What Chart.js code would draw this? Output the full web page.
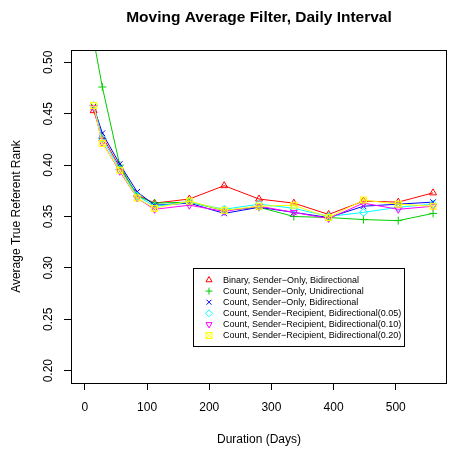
<!DOCTYPE html>
<html>
<head>
  <meta charset="utf-8">
  <title>Moving Average Filter, Daily Interval</title>
  <script src="https://cdn.jsdelivr.net/npm/chart.js@4/dist/chart.umd.min.js"></script>
  <style>
    html, body { margin: 0; padding: 0; background: #ffffff; }
    #wrap { width: 452px; height: 452px; }
  </style>
</head>
<body>
  <div id="wrap"><canvas id="myChart" width="452" height="452"></canvas></div>
  <script>
    // duration in days (x) and tick values
    var days = [14, 28, 56, 84, 112, 168, 224, 280, 336, 392, 448, 504, 560];
    var xTicks = [0, 100, 200, 300, 400, 500];
    var yTicks = [0.20, 0.25, 0.30, 0.35, 0.40, 0.45, 0.50];

    // average true referent rank
    var binarySenderOnlyBi = [0.453, 0.428, 0.398, 0.371, 0.363, 0.367, 0.380, 0.367, 0.363, 0.352, 0.365, 0.364, 0.373];
    var countSenderOnlyUni = [0.522, 0.476, 0.400, 0.370, 0.363, 0.364, 0.356, 0.359, 0.350, 0.349, 0.347, 0.346, 0.353];
    var countSenderOnlyBi  = [0.457, 0.431, 0.401, 0.374, 0.361, 0.363, 0.353, 0.359, 0.354, 0.349, 0.360, 0.362, 0.364];
    var countSR05 = [0.458, 0.426, 0.396, 0.370, 0.360, 0.364, 0.357, 0.362, 0.358, 0.350, 0.354, 0.359, 0.362];
    var countSR10 = [0.456, 0.422, 0.394, 0.368, 0.357, 0.361, 0.355, 0.360, 0.354, 0.348, 0.363, 0.357, 0.360];
    var countSR20 = [0.458, 0.421, 0.395, 0.368, 0.358, 0.365, 0.356, 0.360, 0.361, 0.349, 0.366, 0.362, 0.360];

    var seriesNames = [
      'Binary, Sender\u2212Only, Bidirectional',
      'Count, Sender\u2212Only, Unidirectional',
      'Count, Sender\u2212Only, Bidirectional',
      'Count, Sender\u2212Recipient, Bidirectional(0.05)',
      'Count, Sender\u2212Recipient, Bidirectional(0.10)',
      'Count, Sender\u2212Recipient, Bidirectional(0.20)'
    ];
    var mainTitle = 'Moving Average Filter, Daily Interval';

    // square with an X inside (R pch 7)
    function boxX(color) {
      var c = document.createElement('canvas');
      c.width = 9; c.height = 9;
      var g = c.getContext('2d');
      g.strokeStyle = color;
      g.lineWidth = 1;
      g.strokeRect(1.5, 1.5, 6, 6);
      g.beginPath();
      g.moveTo(1.5, 1.5); g.lineTo(7.5, 7.5);
      g.moveTo(7.5, 1.5); g.lineTo(1.5, 7.5);
      g.stroke();
      return c;
    }

    var colors = ['#ff0000', '#00cd00', '#0000ff', '#00ffff', '#ff00ff', '#ffff00'];
    var styles = ['triangle', 'cross', 'crossRot', 'rectRot', 'triangle', boxX('#ffff00')];
    var rotations = [0, 0, 0, 0, 180, 0];
    var values = [binarySenderOnlyBi, countSenderOnlyUni, countSenderOnlyBi, countSR05, countSR10, countSR20];

    var datasets = values.map(function (v, i) {
      return {
        label: seriesNames[i],
        data: days.map(function (d, j) { return { x: d, y: v[j] }; }),
        borderColor: colors[i],
        backgroundColor: 'rgba(0,0,0,0)',
        borderWidth: 1,
        tension: 0,
        pointStyle: styles[i],
        pointRotation: rotations[i],
        pointRadius: 4,
        pointBorderColor: colors[i],
        pointBackgroundColor: 'rgba(0,0,0,0)',
        pointBorderWidth: 1,
        order: 5 - i
      };
    });

    // box around the plot region + title centred over it
    var boxPlugin = {
      id: 'plotBox',
      afterDraw: function (chart) {
        var a = chart.chartArea, ctx = chart.ctx;
        ctx.save();
        ctx.strokeStyle = '#000000';
        ctx.lineWidth = 1;
        ctx.strokeRect(Math.round(a.left) + 0.5, Math.round(a.top) + 0.5,
          Math.round(a.right - a.left) - 1, Math.round(a.bottom - a.top));
        ctx.fillStyle = '#000000';
        ctx.font = 'bold 15.5px "Liberation Sans", Arial, sans-serif';
        ctx.textAlign = 'center';
        ctx.textBaseline = 'middle';
        ctx.fillText(mainTitle, (a.left + a.right) / 2, 18);
        ctx.restore();
      }
    };

    // legend box inside the plot, like R's legend()
    var legendPlugin = {
      id: 'insideLegend',
      afterDraw: function (chart) {
        var ctx = chart.ctx;
        var x0 = 193.5, y0 = 268.5, w = 211, h = 78;
        ctx.save();
        ctx.fillStyle = '#ffffff';
        ctx.fillRect(x0, y0, w, h);
        ctx.strokeStyle = '#000000';
        ctx.lineWidth = 1;
        ctx.strokeRect(x0, y0, w, h);
        ctx.font = '9px "Liberation Sans", Arial, sans-serif';
        ctx.textBaseline = 'middle';
        ctx.textAlign = 'left';
        chart.data.datasets.forEach(function (ds, i) {
          var y = 280 + i * 11.1;
          ctx.strokeStyle = ds.pointBorderColor;
          ctx.fillStyle = 'rgba(0,0,0,0)';
          ctx.lineWidth = 1;
          Chart.helpers.drawPoint(ctx, {
            pointStyle: ds.pointStyle, rotation: ds.pointRotation,
            radius: 3.5, borderWidth: 1
          }, 209, y);
          ctx.fillStyle = '#000000';
          ctx.fillText(ds.label, 223, y + 0.5);
        });
        ctx.restore();
      }
    };

    var ctx = document.getElementById('myChart').getContext('2d');
    var myChart = new Chart(ctx, {
      type: 'line',
      data: { datasets: datasets },
      plugins: [boxPlugin, legendPlugin],
      options: {
        responsive: false,
        animation: false,
        devicePixelRatio: 1,
        layout: { padding: { left: 0, right: 1, top: 50, bottom: 0 } },
        plugins: {
          legend: { display: false },
          tooltip: { enabled: false },
          title: { display: false }
        },
        scales: {
          x: {
            type: 'linear',
            min: -22.4,
            max: 582.4,
            afterBuildTicks: function (s) { s.ticks = xTicks.map(function (v) { return { value: v }; }); },
            afterFit: function (s) { s.height = 69; },
            grid: { display: true, drawOnChartArea: false, drawTicks: true, tickLength: 7, color: '#000000' },
            border: { display: false },
            ticks: {
              color: '#000000', padding: 10, maxRotation: 0, autoSkip: false,
              font: { family: '"Liberation Sans", Arial, sans-serif', size: 12 }
            },
            title: {
              display: true, text: 'Duration (Days)', color: '#000000',
              font: { family: '"Liberation Sans", Arial, sans-serif', size: 12 },
              padding: { top: 0, bottom: 5 }
            }
          },
          y: {
            type: 'linear',
            min: 0.188,
            max: 0.512,
            afterBuildTicks: function (s) { s.ticks = yTicks.map(function (v) { return { value: v }; }); },
            afterFit: function (s) { s.width = 71; },
            grid: { display: true, drawOnChartArea: false, drawTicks: true, tickLength: 7, color: '#000000' },
            border: { display: false },
            ticks: {
              color: '#000000', padding: 4, minRotation: 90, maxRotation: 90,
              crossAlign: 'center', autoSkip: false,
              font: { family: '"Liberation Sans", Arial, sans-serif', size: 12 },
              callback: function (v) { return Number(v).toFixed(2); }
            },
            title: {
              display: true, text: 'Average True Referent Rank', color: '#000000',
              font: { family: '"Liberation Sans", Arial, sans-serif', size: 12 },
              padding: { top: 9, bottom: 0 }
            }
          }
        }
      }
    });
  </script>
</body>
</html>
